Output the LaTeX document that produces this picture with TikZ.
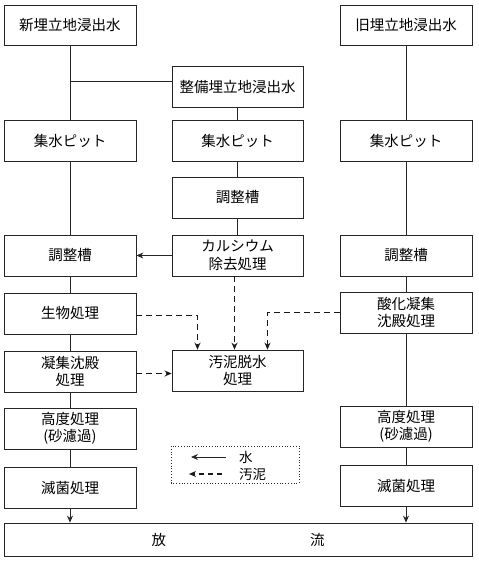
\documentclass[tikz,border=0pt]{standalone}
\usepackage{fontspec}
\newfontfamily\jp{Noto Sans CJK JP}
\usetikzlibrary{arrows.meta,calc}
\tikzset{
  box/.style={draw=black!85, line width=0.8pt, minimum width=132pt, minimum height=41pt,
    inner sep=0pt, align=center, font=\jp\fontsize{14.5}{17.5}\selectfont},
  water/.style={draw=black!85, line width=0.8pt},
  wateraro/.style={water, -{Stealth[length=7pt,width=6pt]}},
  sludge/.style={draw=black!90, line width=1.3pt, dash pattern=on 6pt off 4pt, -{Stealth[length=7pt,width=6pt]}},
  lbl/.style={font=\jp\fontsize{13.5}{15}\selectfont, inner sep=0pt, anchor=west}
}
\begin{document}
\begin{tikzpicture}[x=1pt,y=-1pt]
\useasboundingbox (0,0) rectangle (479,562);
% left column
\node[box, minimum height=40pt] (A1) at (70,25) {新埋立地浸出水};
\node[box] (A2) at (70,140.5) {集水ピット};
\node[box] (A3) at (70,255.5) {調整槽};
\node[box] (A4) at (70,313.5) {生物処理};
\node[box] (A5) at (70,371.5) {凝集沈殿\\処理};
\node[box] (A6) at (70,428.5) {高度処理\\(砂濾過)};
\node[box] (A7) at (70,487.5) {滅菌処理};
% middle column
\node[box, minimum width=131pt] (B1) at (237.5,86.5) {整備埋立地浸出水};
\node[box, minimum width=131pt] (B2) at (237.5,140.5) {集水ピット};
\node[box, minimum width=131pt] (B3) at (237.5,197.5) {調整槽};
\node[box, minimum width=131pt] (B4) at (237.5,255.5) {カルシウム\\除去処理};
\node[box, minimum width=131pt] (B5) at (237.5,370.5) {汚泥脱水\\処理};
% right column
\node[box, minimum height=40pt] (C1) at (406,25) {旧埋立地浸出水};
\node[box] (C2) at (406,140.5) {集水ピット};
\node[box] (C3) at (406,255.5) {調整槽};
\node[box] (C4) at (406,312.5) {酸化凝集\\沈殿処理};
\node[box] (C5) at (406,426.5) {高度処理\\(砂濾過)};
\node[box] (C6) at (406,486) {滅菌処理};
% discharge
\node[box, minimum width=468pt, minimum height=33pt] (F) at (238,539.5) {放\hspace{144pt}流};
% water lines
\draw[water] (A1) -- (A2);
\coordinate (J) at ($(A1.south)!0.5!(A2.north)+(0,-1.5)$);
\draw[water] (J) -- (J -| B1.west);
\draw[water] (A2) -- (A3);
\draw[water] (A3) -- (A4);
\draw[water] (A4) -- (A5);
\draw[water] (A5) -- (A6);
\draw[water] (A6) -- (A7);
\draw[wateraro] (A7.south) -- (A7.south |- F.north);
\draw[water] (B1) -- (B2);
\draw[water] (B2) -- (B3);
\draw[water] (B3) -- (B4);
\draw[wateraro] (B4.west) -- (A3.east);
\draw[water] (C1) -- (C2);
\draw[water] (C2) -- (C3);
\draw[water] (C3) -- (C4);
\draw[water] (C4) -- (C5);
\draw[water] (C5) -- (C6);
\draw[wateraro] (C6.south) -- (C6.south |- F.north);
% sludge lines
\draw[sludge] ([yshift=-2pt]A4.east) -| ([xshift=-40pt]B5.north);
\draw[sludge] ([xshift=-3pt]B4.south) -- ([xshift=-3pt]B5.north);
\draw[sludge] (C4.west) -| ([xshift=30pt]B5.north);
\draw[sludge] ([yshift=-2pt]A5.east) -- ([yshift=-2pt]A5.east -| B5.west);
% legend
\draw[draw=black!85, line width=0.8pt, dotted] (171,446) rectangle (299,483);
\coordinate (L1s) at (226,457);
\coordinate (L1e) at (191,457);
\coordinate (L2s) at (222,474);
\coordinate (L2e) at (189,474);
\draw[wateraro] (L1s) -- (L1e);
\draw[sludge, dash pattern=on 5pt off 4pt] (L2s) -- (L2e);
\node[lbl] (T1) at (239,457) {水};
\node[lbl] (T2) at (239,474) {汚泥};
\end{tikzpicture}
\end{document}
